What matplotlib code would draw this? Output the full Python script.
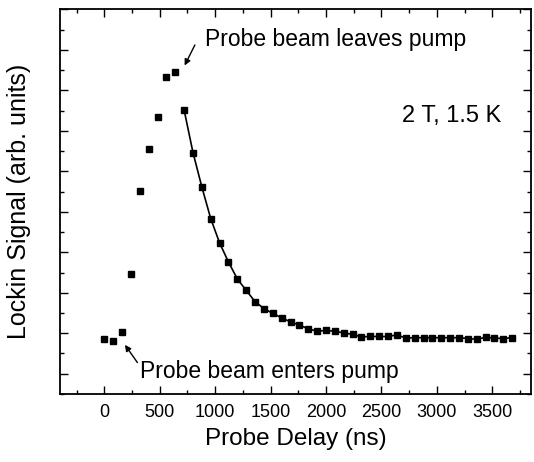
import matplotlib
matplotlib.use("Agg")
import matplotlib.pyplot as plt
from matplotlib.ticker import MultipleLocator, NullFormatter

plt.rcParams['font.family'] = ['Liberation Sans', 'DejaVu Sans']

# probe beam entering the pump region
delay_rise = [0, 80, 160, 240, 320, 400, 480, 560, 640]
signal_rise = [0.86, 0.82, 1.02, 2.47, 4.51, 5.55, 6.35, 7.34, 7.45]

# decay after probe beam leaves the pump (fitted part)
delay_decay = [720, 800, 880, 960, 1040, 1120, 1200, 1280, 1360, 1440,
               1520, 1600, 1680, 1760, 1840, 1920, 2000, 2080, 2160, 2240,
               2320, 2400, 2480, 2560, 2640, 2720, 2800, 2880, 2960, 3040,
               3120, 3200, 3280, 3360, 3440, 3520, 3600, 3680]
signal_decay = [6.51, 5.46, 4.61, 3.83, 3.23, 2.76, 2.34, 2.06, 1.78, 1.61,
                1.49, 1.38, 1.28, 1.20, 1.11, 1.05, 1.07, 1.05, 1.01, 0.97,
                0.91, 0.92, 0.92, 0.92, 0.96, 0.88, 0.89, 0.89, 0.89, 0.89,
                0.89, 0.89, 0.87, 0.85, 0.90, 0.88, 0.87, 0.89]

fig = plt.figure(figsize=(5.34, 4.62), dpi=100)
ax = fig.add_axes([0.1124, 0.1472, 0.882, 0.8327])

ax.plot(delay_rise, signal_rise, 's', color='black', markersize=5)
ax.plot(delay_decay, signal_decay, '-', color='black', lw=1.2)
ax.plot(delay_decay, signal_decay, 's', color='black', markersize=5)

ax.set_xlim(-400, 3850)
ax.set_ylim(-0.5, 9.0)
ax.xaxis.set_major_locator(MultipleLocator(500))
ax.xaxis.set_minor_locator(MultipleLocator(250))
ax.yaxis.set_major_locator(MultipleLocator(1))
ax.yaxis.set_minor_locator(MultipleLocator(0.5))
ax.yaxis.set_major_formatter(NullFormatter())

ax.tick_params(which='both', direction='in', top=True, right=True, width=1)
ax.tick_params(which='major', length=6, labelsize=13, pad=7)
ax.tick_params(which='minor', length=3)
for s in ax.spines.values():
    s.set_linewidth(1.3)

ax.set_xlabel('Probe Delay (ns)', fontsize=17.5, labelpad=5)
ax.set_ylabel('Lockin Signal (arb. units)', fontsize=18, labelpad=14)

ax.text(908, 8.25, 'Probe beam leaves pump', fontsize=16.5, ha='left', va='center')
ax.annotate('', xy=(713, 7.55), xytext=(828, 8.18),
            arrowprops=dict(arrowstyle='-|>', color='black', lw=1,
                            mutation_scale=9))
ax.text(322, 0.06, 'Probe beam enters pump', fontsize=16.5, ha='left', va='center')
ax.annotate('', xy=(171, 0.77), xytext=(313, 0.22),
            arrowprops=dict(arrowstyle='-|>', color='black', lw=1,
                            mutation_scale=9))
ax.text(2685, 6.36, '2 T, 1.5 K', fontsize=17, ha='left', va='center')

fig.savefig('out.png', dpi=100)
